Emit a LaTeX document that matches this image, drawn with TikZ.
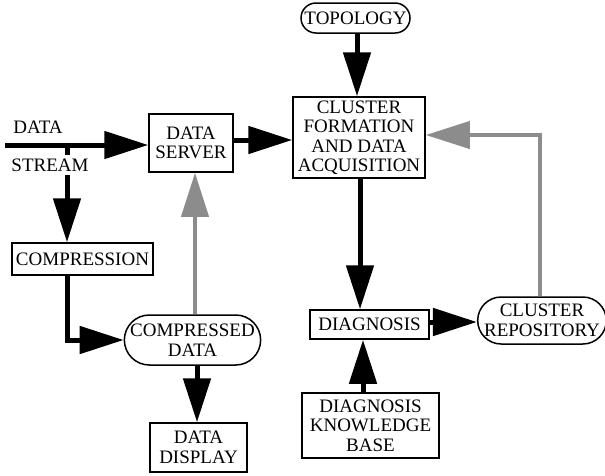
\documentclass[tikz,border=0pt]{standalone}
\usepackage{fontspec}
\setmainfont{Liberation Serif}
\usetikzlibrary{arrows.meta,shapes.misc,calc}
\begin{document}
\begin{tikzpicture}[x=1pt,y=-1pt,
  font=\fontsize{19}{19.5}\selectfont,
  box/.style={draw,line width=1.5pt,inner sep=0pt,align=center,rectangle},
  pill/.style={draw,line width=1.5pt,inner sep=0pt,align=center,rounded rectangle},
  lbl/.style={inner sep=0pt,align=center},
  flow/.style={line width=5pt,-{Triangle[length=44pt,width=27pt]}},
  back/.style={line width=4pt,draw=black!45,-{Triangle[length=44pt,width=27pt,fill=black!45]}}
]
\useasboundingbox (0,0) rectangle (605,475);
% nodes
\node[pill,minimum width=109pt,minimum height=30pt] (topo) at (355.5,18) {TOPOLOGY};
\node[box,minimum width=132pt,minimum height=81pt] (cfda) at (359,137.5) {CLUSTER\\FORMATION\\AND DATA\\ACQUISITION};
\node[box,minimum width=119pt,minimum height=29pt] (diag) at (369.5,324.5) {DIAGNOSIS};
\node[pill,minimum width=122pt,minimum height=47pt] (repo) at (542,320.5) {CLUSTER\\REPOSITORY};
\node[box,minimum width=137pt,minimum height=65pt] (kb) at (370.5,425.5) {DIAGNOSIS\\KNOWLEDGE\\BASE};
\node[box,minimum width=84pt,minimum height=58pt] (dserv) at (191,143) {DATA\\SERVER};
\node[box,minimum width=141pt,minimum height=32pt] (comp) at (82.5,259) {COMPRESSION};
\node[pill,minimum width=131pt,minimum height=50pt] (cdata) at (192.5,340) {COMPRESSED\\DATA};
\node[box,minimum width=97pt,minimum height=49pt] (disp) at (198.5,447.5) {DATA\\DISPLAY};
\coordinate (src) at (5,145);
\coordinate (split) at (67,145);
% connectors
\draw[flow] (src) -- (dserv.west |- src);
\draw[flow] (split) -- (split |- comp.north);
\node[lbl] (data) at (38,127) {DATA};
\node[lbl,fill=white,inner sep=4pt] (stream) at (50,165) {STREAM};
\draw[flow] (dserv.east |- 0,140) -- (cfda.west |- 0,140);
\draw[flow] (topo.south -| 357,0) -- (cfda.north -| 357,0);
\draw[flow] (cfda.south -| 360,0) -- (diag.north -| 360,0);
\draw[flow] (kb.north -| 363,0) -- (diag.south -| 363,0);
\draw[flow] (diag.east |- 0,322) -- (repo.west |- 0,322);
\draw[back] (repo.north -| 540,0) |- (cfda.east |- 0,135);
\draw[back] (cdata.north -| 195,0) -- (dserv.south -| 195,0);
\draw[flow] (split |- comp.south) |- (cdata.west);
\draw[flow] (cdata.south -| 197,0) -- (disp.north -| 197,0);
\end{tikzpicture}
\end{document}
